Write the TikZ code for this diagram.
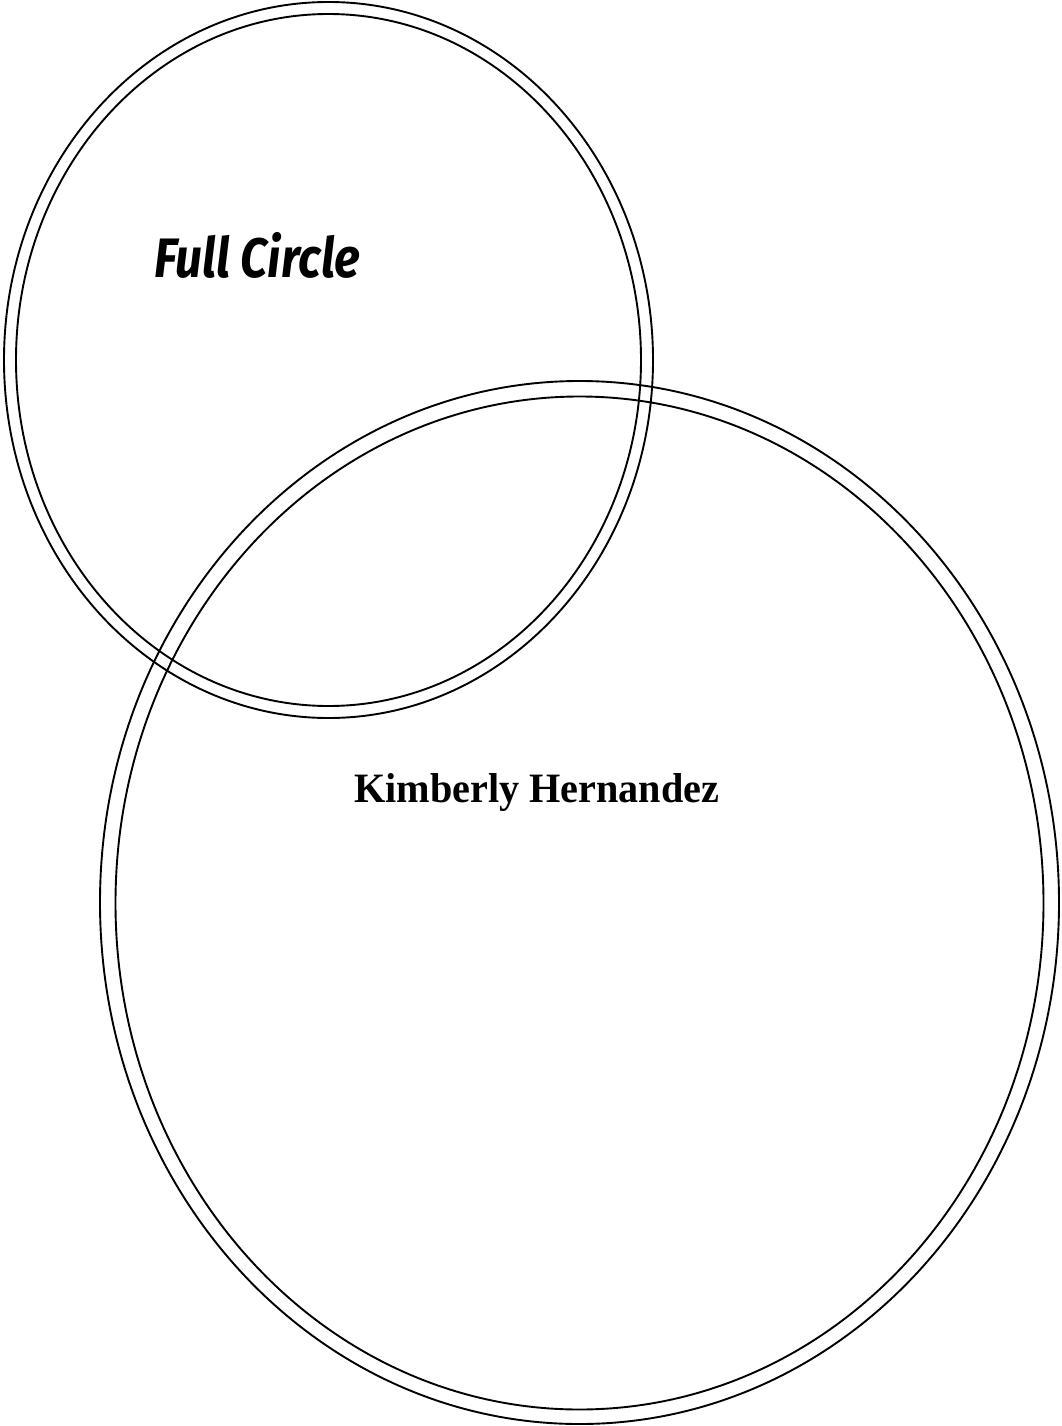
\documentclass[tikz,border=0pt]{standalone}
\usepackage{fontspec}
\newfontfamily\firafont{Fira Sans}
\newfontfamily\serifbold{Liberation Serif}
\tikzset{ring/.style={draw=black, line width=1.9pt}}
\begin{document}
\begin{tikzpicture}[x=1pt,y=-1pt]
\useasboundingbox (0,0) rectangle (1061,1426);
% top circle
\draw[ring] (328.5,360) ellipse [x radius=324.5, y radius=358];
\draw[ring] (328.5,360) ellipse [x radius=312.5, y radius=346];
% bottom circle
\draw[ring] (579.5,902.5) ellipse [x radius=479.5, y radius=521.5];
\draw[ring] (579.5,903) ellipse [x radius=464, y radius=506.5];
\node[anchor=base west, inner sep=0pt] (fc) at (154,277) {\resizebox{206pt}{45pt}{\firafont\itshape\bfseries Full Circle}};
\node[anchor=base west, inner sep=0pt] (kh) at (354,802) {\resizebox{365pt}{29pt}{\serifbold\bfseries Kimberly Hernandez}};
\end{tikzpicture}
\end{document}
